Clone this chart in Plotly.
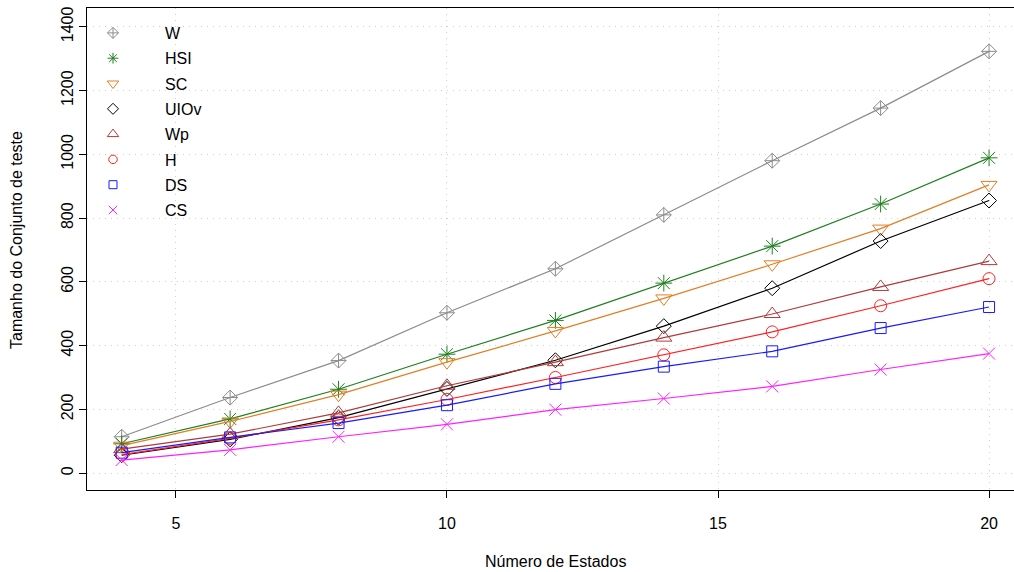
import plotly.graph_objects as go

estados = [4, 6, 8, 10, 12, 14, 16, 18, 20]
W = [114, 237, 353, 503, 641, 810, 980, 1145, 1323]
HSI = [92, 170, 263, 373, 479, 596, 712, 844, 989]
SC = [86, 162, 246, 348, 446, 548, 655, 767, 904]
UIOv = [56, 106, 174, 264, 354, 461, 580, 728, 855]
Wp = [75, 122, 189, 274, 348, 425, 499, 584, 665]
H = [58, 109, 167, 231, 300, 371, 443, 525, 610]
DS = [64, 112, 157, 213, 280, 334, 382, 455, 521]
CS = [41, 73, 114, 153, 199, 234, 272, 325, 375]

series_names = ["W", "HSI", "SC", "UIOv", "Wp", "H", "DS", "CS"]
series_values = [W, HSI, SC, UIOv, Wp, H, DS, CS]
colors = ["#8c8c8c", "#1e7f1e", "#e07f24", "#000000", "#b03a3a", "#ff2020", "#1a1aff", "#ff20ff"]
symbols = ["diamond-cross-open", "asterisk-open", "triangle-down-open", "diamond-open",
           "triangle-up-open", "circle-open", "square-open", "x-thin-open"]
sizes = [11.5, 14, 14, 11.5, 14, 12, 11, 12]
legend_sizes = [8.5, 9, 10, 8.5, 10, 8.5, 8, 8.5]

x_ticks = [5, 10, 15, 20]
y_ticks = [0, 200, 400, 600, 800, 1000, 1200, 1400]

FONT = "Liberation Sans, Arial, Helvetica, sans-serif"

fig = go.Figure()
for name, vals, col, sym, sz in zip(series_names, series_values, colors, symbols, sizes):
    fig.add_trace(go.Scatter(
        x=estados, y=vals, mode="lines+markers", name=name, showlegend=False,
        line=dict(color=col, width=1.2),
        marker=dict(symbol=sym, size=sz, color=col, line=dict(color=col, width=1)),
    ))
for name, col, sym, lsz in zip(series_names, colors, symbols, legend_sizes):
    fig.add_trace(go.Scatter(
        x=[None], y=[None], mode="markers", name=name, showlegend=True, legendgroup=name,
        marker=dict(symbol=sym, size=lsz, color=col, line=dict(color=col, width=1)),
    ))

fig.update_layout(
    width=1014, height=572,
    margin=dict(l=87, r=0, t=8, b=82),
    paper_bgcolor="white", plot_bgcolor="white",
    font=dict(family=FONT, size=16, color="black"),
    showlegend=True,
    legend=dict(x=(61 - 87) / 927, y=1.0 - 8 / 482, xanchor="left", yanchor="top",
                bgcolor="rgba(0,0,0,0)", borderwidth=0,
                font=dict(family=FONT, size=16, color="black"),
                itemwidth=94, tracegroupgap=1.5),
    xaxis=dict(range=[3.36, 20.46], tickvals=x_ticks, ticktext=[str(v) for v in x_ticks],
               automargin=False,
               showgrid=True, gridcolor="#cfcfcf", griddash="1px,5px", gridwidth=1,
               zeroline=False, showline=True, linecolor="black", linewidth=1, mirror=True,
               ticks="outside", ticklen=7, tickcolor="black", tickwidth=1,
               ticklabelstandoff=12,
               tickfont=dict(family=FONT, size=16, color="black")),
    yaxis=dict(range=[-53, 1459], tickvals=y_ticks, ticktext=[str(v) for v in y_ticks],
               automargin=False,
               showgrid=True, gridcolor="#cfcfcf", griddash="1px,5px", gridwidth=1,
               zeroline=False, showline=True, linecolor="black", linewidth=1, mirror=False,
               ticks="outside", ticklen=7, tickcolor="black", tickwidth=1, tickangle=-90,
               tickfont=dict(family=FONT, size=16, color="black")),
    annotations=[
        dict(text="Número de Estados", xref="paper", yref="paper", x=(555 - 87) / 927, y=0,
             xanchor="center", yanchor="middle", yshift=-71, showarrow=False,
             font=dict(family=FONT, size=16, color="black")),
        dict(text="Tamanho do Conjunto de teste", xref="paper", yref="paper", x=0, y=(490 - 240) / 482,
             xanchor="center", yanchor="middle", xshift=-70, textangle=-90, showarrow=False,
             font=dict(family=FONT, size=16, color="black")),
    ],
)

fig.write_html("out.html", config={"displayModeBar": False},
               post_script="document.body.style.margin='0px';document.body.style.overflow='hidden';")
